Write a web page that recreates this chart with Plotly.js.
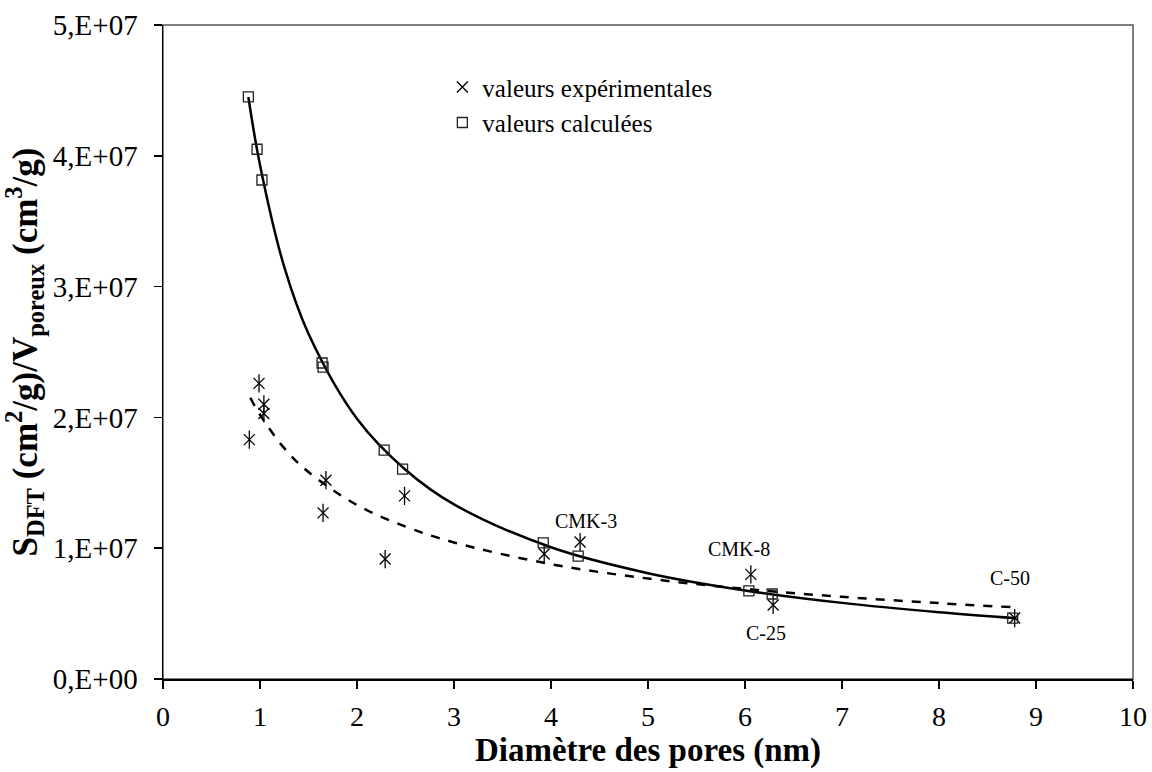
<!DOCTYPE html>
<html><head><meta charset="utf-8">
<script src="https://cdn.plot.ly/plotly-3.0.1.min.js"></script>
<style>html,body{margin:0;padding:0;background:#fff}#chart{width:1152px;height:772px}</style>
</head><body><div id="chart"></div>
<script>
// Experimental values (asterisks)
const expX = [0.89, 0.99, 1.04, 1.04, 1.65, 1.68, 2.29, 2.49, 3.93, 4.30, 6.06, 6.29, 8.78];
const expY = [1.83e7, 2.26e7, 2.10e7, 2.03e7, 1.27e7, 1.52e7, 0.917e7, 1.40e7, 0.956e7, 1.047e7, 0.80e7, 0.566e7, 0.466e7];
// Calculated values (squares)
const calcX = [0.88, 0.97, 1.02, 1.64, 1.65, 2.28, 2.47, 3.92, 4.28, 6.04, 6.28, 8.76];
const calcY = [4.45e7, 4.05e7, 3.815e7, 2.416e7, 2.385e7, 1.75e7, 1.605e7, 1.04e7, 0.94e7, 0.673e7, 0.65e7, 0.466e7];
// Trend curve through calculated values (solid)
const fitCalcX = [0.88, 1.0, 1.25, 1.5, 2.0, 2.5, 3.0, 4.0, 5.0, 6.0, 7.0, 8.0, 8.8];
const fitCalcY = [4.45e7, 3.93e7, 3.15e7, 2.64e7, 1.99e7, 1.60e7, 1.335e7, 1.007e7, 0.809e7, 0.677e7, 0.582e7, 0.511e7, 0.465e7];
const fitExpX = [0.9, 1.0, 1.25, 1.5, 2.0, 2.5, 3.0, 4.0, 5.0, 6.0, 7.0, 8.0, 8.75];
const fitExpY = [2.15e7, 2.02e7, 1.765e7, 1.582e7, 1.33e7, 1.165e7, 1.044e7, 0.878e7, 0.768e7, 0.689e7, 0.628e7, 0.58e7, 0.549e7];
// Sample labels
const labelText = ["CMK-3", "CMK-8", "C-25", "C-50"];
const labelX = [4.36, 5.94, 6.22, 8.73];
const labelY = [1.21e7, 0.994e7, 0.352e7, 0.772e7];
// Tick labels
const xTickVals = [0,1,2,3,4,5,6,7,8,9,10];
const yTickVals = [0, 1e7, 2e7, 3e7, 4e7, 5e7];
const yTickText = ["0,E+00", "1,E+07", "2,E+07", "3,E+07", "4,E+07", "5,E+07"];

const FONT = "'Liberation Serif', 'Times New Roman', serif";

const traces = [
  {x: fitCalcX, y: fitCalcY, mode: "lines", line: {color: "#000", width: 2.5, shape: "spline"}, showlegend: false, hoverinfo: "skip"},
  {x: fitExpX, y: fitExpY, mode: "lines", line: {color: "#000", width: 2.5, dash: "dash", shape: "spline"}, showlegend: false, hoverinfo: "skip"},
  {x: expX, y: expY, mode: "markers", name: "valeurs expérimentales",
   marker: {symbol: "x-thin-open", size: 11, color: "#000", line: {color: "#000", width: 1.3}}},
  {x: expX, y: expY, mode: "markers", showlegend: false,
   marker: {symbol: "line-ns-open", size: 13, color: "#000", line: {color: "#000", width: 1.3}}},
  {x: calcX, y: calcY, mode: "markers", name: "valeurs calculées",
   marker: {symbol: "square-open", size: 10, color: "#222", line: {color: "#222", width: 1.3}}}
];

const annotations = labelText.map((t, i) => ({
  x: labelX[i], y: labelY[i], xref: "x", yref: "y", text: t, showarrow: false,
  font: {family: FONT, size: 20, color: "#000"}
}));

const layout = {
  width: 1152, height: 772,
  margin: {l: 163, r: 19, t: 25, b: 93},
  paper_bgcolor: "#fff", plot_bgcolor: "#fff",
  font: {family: FONT, color: "#000"},
  xaxis: {
    range: [0, 10], tickvals: xTickVals, ticks: "outside", ticklen: 8, tickwidth: 1.5, tickcolor: "#000",
    showline: true, linecolor: "#000", linewidth: 1.5, showgrid: false, zeroline: false,
    tickfont: {family: FONT, size: 28}, ticklabelstandoff: 4,
    title: {text: "<b>Diamètre des pores (nm)</b>", font: {family: FONT, size: 33}, standoff: 4}
  },
  yaxis: {
    range: [0, 5e7], tickvals: yTickVals, ticktext: yTickText, ticks: "outside", ticklen: 8, tickwidth: 1.5, tickcolor: "#000",
    showline: true, linecolor: "#000", linewidth: 1.5, showgrid: false, zeroline: false,
    tickfont: {family: FONT, size: 29}, ticklabelstandoff: 10,
    title: {text: "<b>S<sub>DFT</sub> (cm<sup>2</sup>/g)/V<sub>poreux</sub> (cm<sup>3</sup>/g)</b>", font: {family: FONT, size: 35}, standoff: 6}
  },
  shapes: [
    {type: "rect", xref: "paper", yref: "paper", x0: 0, x1: 1, y0: 0, y1: 1, line: {color: "#555", width: 1.5}, layer: "below"}
  ],
  legend: {x: 0.288, y: 0.94, xanchor: "left", yanchor: "top", bgcolor: "rgba(0,0,0,0)",
    font: {family: FONT, size: 25}, tracegroupgap: 0, itemwidth: 30},
  annotations: annotations,
  showlegend: true
};

Plotly.newPlot("chart", traces, layout, {displayModeBar: false, staticPlot: true});
</script>
</body></html>
